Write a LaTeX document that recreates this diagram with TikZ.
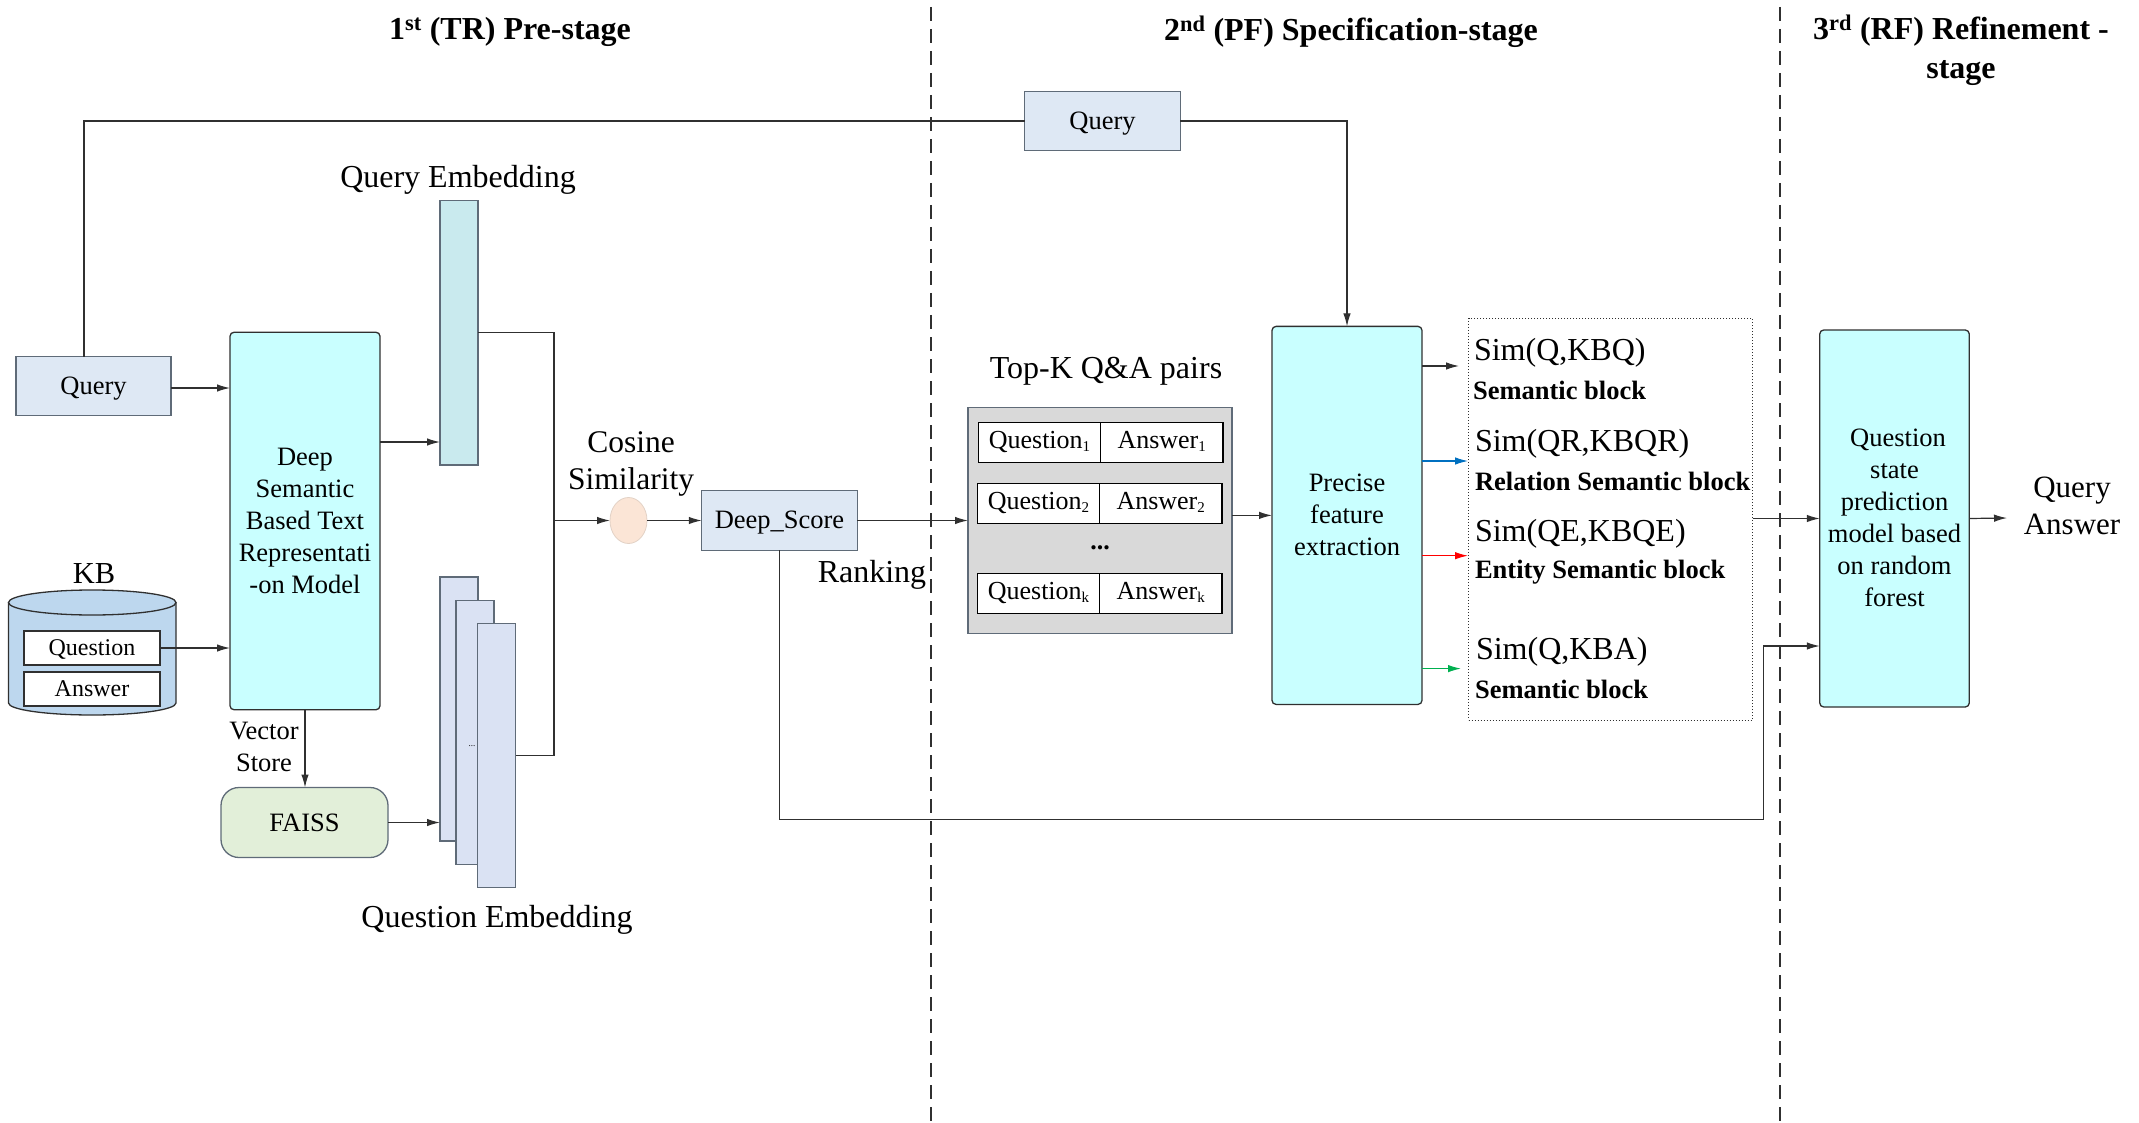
\documentclass[tikz,border=0pt]{standalone}
\usepackage{fontspec}
\setmainfont{Liberation Serif}
\usetikzlibrary{arrows.meta,shapes.geometric}
\definecolor{lineC}{HTML}{303030}
\definecolor{borderC}{HTML}{5F6B78}
\definecolor{queryC}{HTML}{DEE8F4}
\definecolor{cyanC}{HTML}{C9FFFF}
\definecolor{embC}{HTML}{C9EAEE}
\definecolor{stackC}{HTML}{DAE2F3}
\definecolor{kbC}{HTML}{BDD7EE}
\definecolor{faissC}{HTML}{E2EFD9}
\definecolor{grayC}{HTML}{D9D9D9}
\definecolor{cosC}{HTML}{FBE5D6}
\definecolor{blueA}{HTML}{0070C0}
\definecolor{greenA}{HTML}{00B050}
\definecolor{redA}{HTML}{FF0000}
\newcommand{\sbs}[1]{\raisebox{-3.5pt}{\fontsize{15pt}{15pt}\selectfont #1}}
\tikzset{
  txt/.style={font=\fontsize{#1pt}{32pt}\selectfont,inner sep=0pt,outer sep=0pt,align=center,text=black},
  boldtxt/.style={font=\fontsize{#1pt}{39pt}\selectfont\bfseries,inner sep=0pt,outer sep=0pt,align=center,text=black},
  shapebox/.style={draw=borderC,line width=1.3pt,inner sep=0pt,outer sep=0pt,align=center,text=black},
  querybox/.style={shapebox,fill=queryC,font=\fontsize{26.5pt}{32pt}\selectfont,text height=20pt,text depth=3pt},
  bigbox/.style={shapebox,draw=lineC,fill=cyanC,rounded corners=4pt,font=\fontsize{26.5pt}{32pt}\selectfont},
  embbox/.style={shapebox,fill=#1},
  cell/.style={draw=black,line width=1.2pt,fill=white,inner sep=0pt,outer sep=0pt,font=\fontsize{26pt}{32pt}\selectfont,text height=18pt,text depth=6.6pt},
  arr/.style={-{Latex[length=13pt,width=7.5pt]},draw=#1,line width=1.2pt},
  arr/.default=lineC,
  wire/.style={draw=lineC,line width=1.2pt},
  divider/.style={draw=lineC,line width=1.3pt,dash pattern=on 14pt off 8pt},
}
\begin{document}
\begin{tikzpicture}[x=1pt,y=-1pt]
\useasboundingbox (0,0) rectangle (2139,1123);

% titles
\node[boldtxt=32] (t1) at (510,31.5) {1\textsuperscript{st} (TR) Pre-stage};
\node[boldtxt=32] (t2) at (1351,31.5) {2\textsuperscript{nd} (PF) Specification-stage};
\node[boldtxt=32] (t3) at (1961,50) {3\textsuperscript{rd} (RF) Refinement -\\stage};

% dividers
\coordinate (d1a) at (931,7);
\coordinate (d1b) at (931,1123);
\coordinate (d2a) at (1780,7);
\coordinate (d2b) at (1780,1123);
\draw[divider] (d1a) -- (d1b);
\draw[divider] (d2a) -- (d2b);

% left column
\node[querybox,minimum width=155,minimum height=58.5] (query) at (93.5,386) {Query};
\node[querybox,minimum width=155.5,minimum height=58.5] (qtop) at (1102.5,121) {Query};
\node[bigbox,minimum width=150,minimum height=377.5] (deep) at (305,521) {Deep\\Semantic\\Based Text\\Representati\\-on Model};

% KB
\node[txt=30.5] (kb) at (94,574) {KB};
\draw[draw=lineC,fill=kbC,line width=1.3pt] (8.5,602.5) -- (8.5,703) arc[start angle=180,end angle=360,x radius=83.75pt,y radius=12pt] -- (176,602.5);
\node[ellipse,draw=lineC,fill=kbC,line width=1.3pt,minimum width=167.5,minimum height=25,inner sep=0pt,outer sep=0pt] (cyl) at (92.25,602.5) {};
\node[shapebox,draw=lineC,fill=white,minimum width=136,minimum height=34,font=\fontsize{24pt}{30pt}\selectfont,text height=18pt,text depth=3pt] (kbq) at (92,648) {Question};
\node[shapebox,draw=lineC,fill=white,minimum width=136,minimum height=34,font=\fontsize{24pt}{30pt}\selectfont] (kba) at (92,689) {Answer};

% embeddings
\node[txt=32] (qemb) at (458,180) {Query Embedding};
\node[embbox=embC,minimum width=38,minimum height=264.5] (emb) at (459,332.75) {};
\node[embbox=stackC,minimum width=38,minimum height=264] (st1) at (459,709) {};
\node[embbox=stackC,minimum width=38,minimum height=264] (st2) at (475,732.25) {};
\node[font=\fontsize{9pt}{9pt}\selectfont,inner sep=0pt] (stdots) at (472,746) {...};
\node[embbox=stackC,minimum width=38.5,minimum height=264] (st3) at (496.5,755.75) {};
\node[txt=32] (qqemb) at (497,920) {Question Embedding};

% FAISS
\node[txt=26.5] (vs) at (264,747) {Vector\\Store};
\node[shapebox,fill=faissC,rounded corners=18pt,minimum width=167,minimum height=70,font=\fontsize{26.5pt}{32pt}\selectfont] (faiss) at (304.5,822.5) {FAISS};

% cosine
\node[txt=31.5] (cos) at (631,464) {Cosine\\[5pt]Similarity};
\node[ellipse,draw=cosC!80!gray,line width=0.8pt,fill=cosC,minimum width=37,minimum height=46,inner sep=0pt,outer sep=0pt] (circ) at (628.5,520.5) {};
\coordinate (junc) at (554,520.5);
\node[querybox,minimum width=155.5,minimum height=59.5,text height=19pt,text depth=4pt] (score) at (779.5,520.5) {Deep\_Score};
\node[txt=32] (rank) at (872,575) {Ranking};

% top-k
\node[txt=32] (topk) at (1106,371) {Top-K Q\&A pairs};
\node[shapebox,fill=grayC,minimum width=264,minimum height=226.5] (gbox) at (1100,520.5) {};
\node[cell,minimum width=122,minimum height=40.5] (q1) at (1039.5,442.5) {Question\sbs{1}};
\node[cell,minimum width=122.5,minimum height=40.5] (a1) at (1161.7,442.5) {Answer\sbs{1}};
\node[cell,minimum width=122,minimum height=40.5] (q2) at (1038.5,503.5) {Question\sbs{2}};
\node[cell,minimum width=122.5,minimum height=40.5] (a2) at (1160.7,503.5) {Answer\sbs{2}};
\node[font=\fontsize{26pt}{30pt}\selectfont\bfseries,inner sep=0pt] (dots) at (1100,548) {...};
\node[cell,minimum width=122,minimum height=40.5] (qk) at (1038.5,593.5) {Question\sbs{k}};
\node[cell,minimum width=122.5,minimum height=40.5] (ak) at (1160.7,593.5) {Answer\sbs{k}};

% PF
\node[bigbox,minimum width=150,minimum height=378] (pf) at (1347,515.4) {\raisebox{1pt}{Precise}\\\raisebox{1pt}{feature}\\\raisebox{1pt}{extraction}};

% sims box
\node[draw=lineC,line width=1pt,dotted,minimum width=284,minimum height=401.5,inner sep=0pt,outer sep=0pt] (sims) at (1610.5,519.25) {};
\node[txt=32,anchor=west] (s1) at (1474,353) {Sim(Q,KBQ)};
\node[boldtxt=26.5,anchor=west] (b1) at (1473,390) {Semantic block};
\node[txt=32,anchor=west] (s2) at (1475,444) {Sim(QR,KBQR)};
\node[boldtxt=26.5,anchor=west] (b2) at (1475,481) {Relation Semantic block};
\node[txt=32,anchor=west] (s3) at (1475,534) {Sim(QE,KBQE)};
\node[boldtxt=26.5,anchor=west] (b3) at (1475,572.5) {Entity Semantic block};
\node[txt=32,anchor=west] (s4) at (1476,651.5) {Sim(Q,KBA)};
\node[boldtxt=26.5,anchor=west] (b4) at (1475,689) {Semantic block};

% RF
\node[bigbox,minimum width=149.5,minimum height=377] (rf) at (1894.5,518.5) {};
\node[txt=26.5] (rft) at (1894.5,517.5) {\hspace*{7pt}Question\\state\\prediction\\model based\\on random\\forest};
\node[txt=31] (ans) at (2072,506) {Query\\[5pt]Answer};

% free ends
\coordinate (qbend) at (84,121);
\coordinate (p1) at (1459,366);
\coordinate (p2) at (1468,461);
\coordinate (p3) at (1468,555.7);
\coordinate (p4) at (1461,668.6);
\coordinate (fb) at (1763.7,819.6);
\coordinate (fbup) at (1763.7,646);
\coordinate (out) at (2007,518);

% connectors
\draw[wire] (query.north -| qbend) -- (qbend) -- (qtop.west);
\draw[arr] (qtop.east) -| (pf.north);
\draw[arr] ([yshift=-2pt]query.east) -- ([yshift=-2pt]query.east -| deep.west);
\draw[arr] (kbq.east) -- (kbq.east -| deep.west);
\draw[arr] (deep.east |- 0,442) -- (emb.west |- 0,442);
\draw[arr] (deep.south) -- (deep.south |- faiss.north);
\draw[arr] (faiss.east) -- (faiss.east -| st1.west);
\draw[wire] (emb.east) -| (junc) |- (st3.east);
\draw[arr] (junc) -- (circ.west);
\draw[arr] (circ.east) -- (score.west);
\draw[arr] (score.east) -- (score.east -| gbox.west);
\draw[arr] (gbox.east |- 0,515.4) -- (pf.west);
\draw[arr] (pf.east |- p1) -- (p1);
\draw[arr=blueA] (pf.east |- p2) -- (p2);
\draw[arr=redA] (pf.east |- p3) -- (p3);
\draw[arr=greenA] (pf.east |- p4) -- (p4);
\draw[arr] (sims.east |- rf.west) -- (rf.west);
\draw[arr] (rf.east) -- (out);
\draw[arr] (score.south) |- (fb) -- (fbup) -- (fbup -| rf.west);
\end{tikzpicture}
\end{document}
